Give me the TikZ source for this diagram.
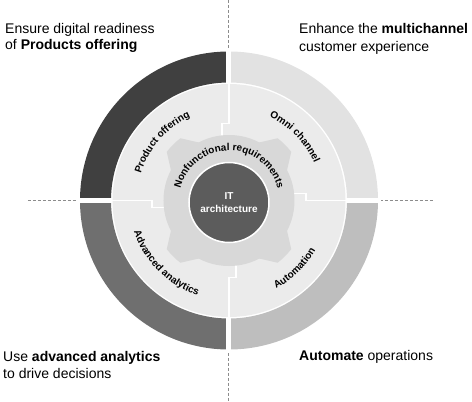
\documentclass[tikz,border=0pt]{standalone}
\usepackage{fontspec}
\setmainfont{Liberation Sans}
\usetikzlibrary{decorations.text}
\definecolor{qtl}{HTML}{404040}
\definecolor{qbl}{HTML}{6F6F6F}
\definecolor{qtr}{HTML}{E2E2E2}
\definecolor{qbr}{HTML}{BEBEBE}
\definecolor{inring}{HTML}{EBEBEB}
\definecolor{gearc}{HTML}{D8D8D8}
\definecolor{core}{HTML}{5C5C5C}
\definecolor{dashc}{HTML}{8C8C8C}
\newcommand{\labfont}{\bfseries\fontsize{10}{12}\selectfont}
\tikzset{
  headline/.style={anchor=base west, inner sep=0pt, font=\fontsize{14}{17}\selectfont},
  guide/.style={dashc, line width=1pt, dash pattern=on 3pt off 2pt},
  gapline/.style={white, line width=5pt},
  seam/.style={white, line width=1.5pt},
  ringtext/.style={decorate, decoration={text along path, text align=center, text={#1}}}
}
\begin{document}
\begin{tikzpicture}[x=1pt,y=1pt]
\useasboundingbox (-229,-201.5) rectangle (243,200.5);
% dashed guides
\draw[guide] (0,200.5) -- (0,149);
\draw[guide] (0,-147) -- (0,-201.5);
\draw[guide] (-201,0) -- (-150,0);
\draw[guide] (151,0) -- (204,0);
% outer ring quadrants
\fill[qtr] (0:149) arc[start angle=0,end angle=90,radius=149] -- (90:118) arc[start angle=90,end angle=0,radius=118] -- cycle;
\fill[qtl] (90:149) arc[start angle=90,end angle=180,radius=149] -- (180:118) arc[start angle=180,end angle=90,radius=118] -- cycle;
\fill[qbl] (180:149) arc[start angle=180,end angle=270,radius=149] -- (270:118) arc[start angle=270,end angle=180,radius=118] -- cycle;
\fill[qbr] (270:149) arc[start angle=270,end angle=360,radius=149] -- (0:118) arc[start angle=360,end angle=270,radius=118] -- cycle;
\draw[gapline] (0,110) -- (0,152);
\draw[gapline] (0,-110) -- (0,-152);
\draw[gapline] (110,0) -- (152,0);
\draw[gapline] (-110,0) -- (-152,0);
% inner ring
\fill[inring] (0,0) circle (116.5);
\draw[seam] (0,117) -- (0,77) -- (-7,77) -- (-7,55);
\draw[seam] (117,0) -- (77,0) -- (77,7) -- (55,7);
\draw[seam] (0,-117) -- (0,-77) -- (7,-77) -- (7,-55);
\draw[seam] (-117,0) -- (-77,0) -- (-77,-7) -- (-55,-7);
% gear
\fill[gearc] (0,0) circle (65.5);
\foreach \a in {45,135,225,315}
  \fill[gearc] (\a-19:64) -- (\a-7:79) arc[start angle=\a-7,end angle=\a+7,radius=79] -- (\a+19:64) -- cycle;
% core
\node[circle, fill=core, draw=white, line width=1.5pt, minimum size=80pt, inner sep=0pt] (core) at (0,-2) {};
\node[text=white, font=\bfseries\fontsize{10}{13}\selectfont, align=center] (coretext) at (0,-2) {IT\\architecture};
% ring labels
\path[ringtext={|\labfont|Product offering}] (179:92) arc[start angle=179,end angle=99,radius=92];
\path[ringtext={|\labfont|Omni channel}] (84:93) arc[start angle=84,end angle=4,radius=93];
\path[ringtext={|\labfont|Advanced analytics}] (180:100) arc[start angle=180,end angle=270,radius=100];
\path[ringtext={|\labfont|Automation}] (274:100) arc[start angle=274,end angle=354,radius=100];
\path[ringtext={|\labfont|Nonfunctional requirements}] (178:50) arc[start angle=178,end angle=2,radius=50];
% headlines
\node[headline] (tla) at (-224,167.5) {Ensure digital readiness};
\node[headline] (tlb) at (-224,150.5) {of \textbf{Products offering}};
\node[headline] (tra) at (70,166.5) {Enhance the \textbf{multichannel}};
\node[headline] (trb) at (70,149.5) {customer experience};
\node[headline] (bla) at (-226,-160.5) {Use \textbf{advanced analytics}};
\node[headline] (blb) at (-226,-177.5) {to drive decisions};
\node[headline] (bra) at (70,-159.5) {\textbf{Automate} operations};
\end{tikzpicture}
\end{document}
